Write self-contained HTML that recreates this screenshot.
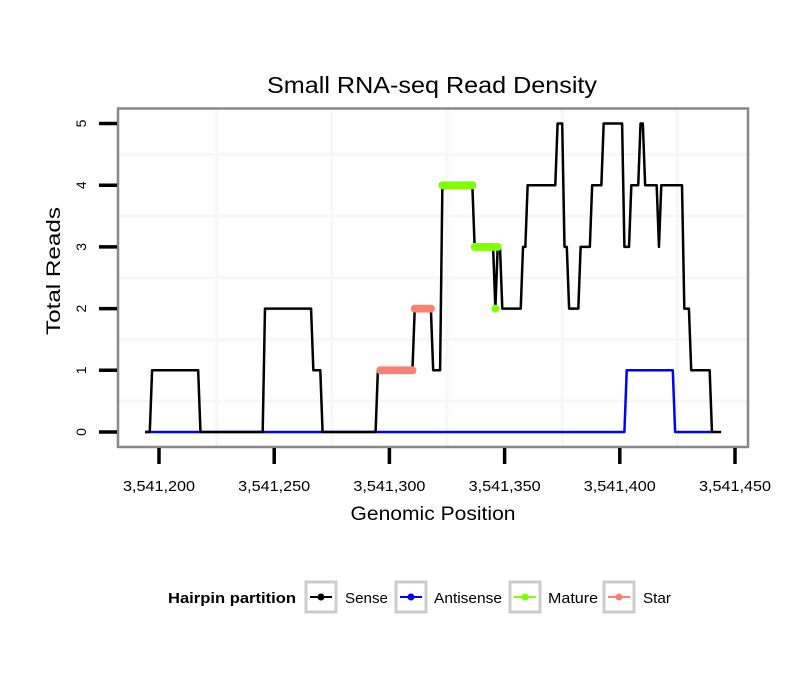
<!DOCTYPE html>
<html><head><meta charset="utf-8"><style>
body{margin:0;background:#fff;}
svg{display:block;font-family:"Liberation Sans",sans-serif;}
</style></head><body>
<svg id="chart" width="810" height="690" viewBox="0 0 810 690">
<rect x="0" y="0" width="810" height="690" fill="#fff"/>
<text x="432" y="93" font-size="23" text-anchor="middle" textLength="330" lengthAdjust="spacingAndGlyphs" fill="#000">Small RNA-seq Read Density</text>
<g id="grid"></g>
<g id="series"></g>
<rect x="118" y="108.5" width="630" height="338.5" fill="none" stroke="#888" stroke-width="2.5"/>
<g id="axes"></g>
<text x="433" y="520" font-size="19" text-anchor="middle" textLength="165" lengthAdjust="spacingAndGlyphs">Genomic Position</text>
<text transform="translate(60,271) rotate(-90)" font-size="19" text-anchor="middle" textLength="128" lengthAdjust="spacingAndGlyphs">Total Reads</text>
<g font-size="15">
 <text x="168" y="603" font-weight="bold" textLength="128" lengthAdjust="spacingAndGlyphs">Hairpin partition</text>
 <g>
  <rect x="306" y="582" width="30" height="30" fill="#fff" stroke="#ccc" stroke-width="3"/>
  <line x1="310" y1="597" x2="332" y2="597" stroke="#000" stroke-width="2"/><circle cx="321" cy="597" r="3.5" fill="#000"/>
  <text x="345" y="603" textLength="43" lengthAdjust="spacingAndGlyphs">Sense</text></g>
 <g>
  <rect x="396" y="582" width="30" height="30" fill="#fff" stroke="#ccc" stroke-width="3"/>
  <line x1="400" y1="597" x2="422" y2="597" stroke="#00f" stroke-width="2"/><circle cx="411" cy="597" r="3.5" fill="#00f"/>
  <text x="434" y="603" textLength="68" lengthAdjust="spacingAndGlyphs">Antisense</text></g>
 <g>
  <rect x="510" y="582" width="30" height="30" fill="#fff" stroke="#ccc" stroke-width="3"/>
  <line x1="514" y1="597" x2="536" y2="597" stroke="#7fff00" stroke-width="2"/><circle cx="525" cy="597" r="3.5" fill="#7fff00"/>
  <text x="548" y="603" textLength="50" lengthAdjust="spacingAndGlyphs">Mature</text></g>
 <g>
  <rect x="604" y="582" width="30" height="30" fill="#fff" stroke="#ccc" stroke-width="3"/>
  <line x1="608" y1="597" x2="630" y2="597" stroke="#fa8072" stroke-width="2"/><circle cx="619" cy="597" r="3.5" fill="#fa8072"/>
  <text x="643" y="603" textLength="28" lengthAdjust="spacingAndGlyphs">Star</text></g>
</g>
</svg>
<script>
const xTicks = [3541200, 3541250, 3541300, 3541350, 3541400, 3541450];
const xTickLabels = ["3,541,200", "3,541,250", "3,541,300", "3,541,350", "3,541,400", "3,541,450"];
const yTicks = [0, 1, 2, 3, 4, 5];
const yTickLabels = ["0", "1", "2", "3", "4", "5"];
const sensePos = [3541194,3541196,3541197,3541217,3541218,3541245,3541246,3541266,3541267,3541270,3541271,3541294,3541295,3541310,3541311,3541318,3541319,3541322,3541323,3541336,3541337,3541345,3541346,3541347,3541348,3541349,3541357,3541358,3541359,3541360,3541372,3541373,3541375,3541376,3541377,3541378,3541382,3541383,3541387,3541388,3541392,3541393,3541401,3541402,3541404,3541405,3541408,3541409,3541410,3541411,3541416,3541417,3541418,3541427,3541428,3541430,3541431,3541439,3541440,3541444];
const senseVals = [0,0,1,1,0,0,2,2,1,1,0,0,1,1,2,2,1,1,4,4,3,3,2,3,3,2,2,3,3,4,4,5,5,3,3,2,2,3,3,4,4,5,5,3,3,4,4,5,5,4,4,3,4,4,2,2,1,1,0,0];
const antiPos = [3541194,3541402,3541403,3541423,3541424,3541440];
const antiVals = [0,0,1,1,0,0];
const maturePos = [3541323,3541324,3541325,3541326,3541327,3541328,3541329,3541330,3541331,3541332,3541333,3541334,3541335,3541336,3541337,3541338,3541339,3541340,3541341,3541342,3541343,3541344,3541345,3541346,3541347];
const matureVals = [4,4,4,4,4,4,4,4,4,4,4,4,4,4,3,3,3,3,3,3,3,3,3,2,3];
const starPos = [3541296,3541297,3541298,3541299,3541300,3541301,3541302,3541303,3541304,3541305,3541306,3541307,3541308,3541309,3541310,3541311,3541312,3541313,3541314,3541315,3541316,3541317,3541318];
const starVals = [1,1,1,1,1,1,1,1,1,1,1,1,1,1,1,2,2,2,2,2,2,2,2];

const NS = "http://www.w3.org/2000/svg";
function xs(v){ return 159 + (v - 3541200) * 2.304; }
function ys(v){ return 432 - v * 61.7; }
function mk(tag, attrs, parent){
  const e = document.createElementNS(NS, tag);
  for (const k in attrs) e.setAttribute(k, attrs[k]);
  parent.appendChild(e); return e;
}
const grid = document.getElementById('grid');
for (let i = 0; i < xTicks.length - 1; i++) {
  const gx = xs((xTicks[i] + xTicks[i+1]) / 2);
  if (gx > 118 && gx < 748) {
    const l = mk('line', {x1: gx, x2: gx, y1: 109, y2: 447, stroke: '#f7f7f7', 'stroke-width': 3}, grid);
    
    
  }
}
for (let i = 0; i < yTicks.length - 1; i++) {
  const gy = ys((yTicks[i] + yTicks[i+1]) / 2);
  const l = mk('line', {x1: 119, x2: 747, y1: gy, y2: gy, stroke: '#f7f7f7', 'stroke-width': 3}, grid);
  
  
}
const axes = document.getElementById('axes');
xTicks.forEach((t, i) => {
  const x = xs(t);
  const tk = mk('line', {x1: x, x2: x, y1: 448, y2: 464, stroke: '#000', 'stroke-width': 3.5}, axes);
  
  
  const lb = mk('text', {x: x, y: 491, 'font-size': 15, 'text-anchor': 'middle', textLength: 72, lengthAdjust: 'spacingAndGlyphs'}, axes);
  lb.textContent = xTickLabels[i];
  
  
});
yTicks.forEach((t, i) => {
  const y = ys(t);
  const tk = mk('line', {x1: 99, x2: 117, y1: y, y2: y, stroke: '#000', 'stroke-width': 3.5}, axes);
  
  
  const lb = mk('text', {'font-size': 14, 'text-anchor': 'middle', transform: 'translate(86,' + y + ') rotate(-90)'}, axes);
  lb.textContent = yTickLabels[i];
  
  
});
const series = document.getElementById('series');
function path(pos, vals, color, w, name){
  const d = pos.map((p, i) => (i ? 'L' : 'M') + xs(p).toFixed(2) + ',' + ys(vals[i]).toFixed(2)).join(' ');
  const p = mk('path', {d: d, fill: 'none', stroke: color, 'stroke-width': w, 'stroke-linejoin': 'round'}, series);
  
  
}
function dots(pos, vals, color, name){
  pos.forEach((p, i) => {
    const c = mk('circle', {cx: xs(p), cy: ys(vals[i]), r: 4, fill: color}, series);
    
    
  });
}
path(antiPos, antiVals, '#0000ff', 2.5, 'antisense-line');
path(sensePos, senseVals, '#000', 2.5, 'sense-line');
dots(starPos, starVals, '#fa8072', 'star-point');
dots(maturePos, matureVals, '#7fff00', 'mature-point');
</script>
</body></html>
